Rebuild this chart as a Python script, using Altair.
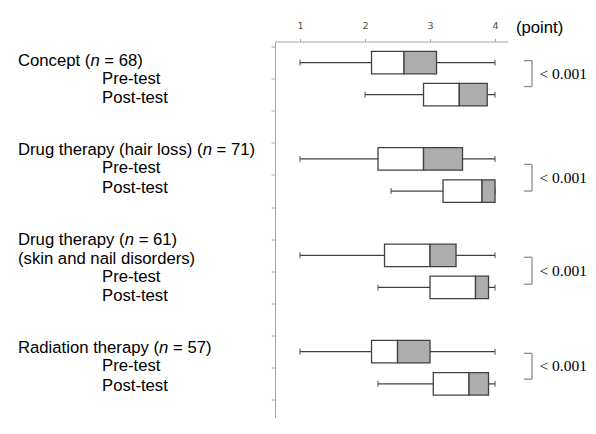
import altair as alt
import pandas as pd

# ---------------- data ----------------
group_titles = ["Concept", "Drug therapy (hair loss)", "Drug therapy", "Radiation therapy"]
group_subtitles = ["", "", "(skin and nail disorders)", ""]
n_values = [68, 71, 61, 57]
tests = ["Pre-test", "Post-test"]
# per group: [pre, post]
mins = [[1.0, 2.0], [1.0, 2.4], [1.0, 2.2], [1.0, 2.2]]
q1s = [[2.1, 2.9], [2.2, 3.2], [2.3, 3.0], [2.1, 3.05]]
medians = [[2.6, 3.45], [2.9, 3.8], [3.0, 3.7], [2.5, 3.6]]
q3s = [[3.1, 3.88], [3.5, 4.0], [3.4, 3.9], [3.0, 3.9]]
maxs = [[4.0, 4.0], [4.0, 4.0], [4.0, 4.0], [4.0, 4.0]]
p_values = ["< 0.001", "< 0.001", "< 0.001", "< 0.001"]
x_ticks = [1, 2, 3, 4]
unit_label = "(point)"

# ---------------- layout ----------------
PX_X = 65.0          # pixels per point on x
PX_Y = 33.0          # pixels per slot on y
PLOT_W = 233.0
X_MIN = 0.615
X_MAX = X_MIN + PLOT_W / PX_X
PLOT_H = 376.5
Y_MAX = PLOT_H / PX_Y
PAD_L = 267
PAD_R = 580 - PAD_L - PLOT_W
FONT = "Liberation Sans"
FS = 16.7
INK = "#404040"
GREY_FILL = "#adadad"
AXIS_C = "#a6a6a6"

ARIAL = {" ": 278, "(": 333, ")": 333, "=": 584, "-": 333, "C": 722, "D": 722, "R": 722,
         "P": 667, "a": 556, "c": 500, "d": 556, "e": 556, "g": 556, "h": 556, "i": 222,
         "k": 500, "l": 222, "n": 556, "o": 556, "p": 556, "r": 333, "s": 500, "t": 278,
         "u": 556, "y": 500}
for d in "0123456789":
    ARIAL[d] = 556


def text_w(s):
    return sum(ARIAL.get(ch, 556) for ch in s) / 1000.0 * FS


def px_to_x(px):   # pixel offset from plot left -> data x
    return X_MIN + px / PX_X


# box table
rows = []
for g in range(len(group_titles)):
    for t in range(2):
        rows.append(dict(group=group_titles[g], test=tests[t], slot=3 * g + t + 0.5,
                         mn=mins[g][t], q1=q1s[g][t], med=medians[g][t],
                         q3=q3s[g][t], mx=maxs[g][t]))
box_df = pd.DataFrame(rows)

# label layout (baselines in slot units, x in pixels from plot left)
title_base = [0.606, 3.370, 6.167, 9.552]
sub_base = [None, None, 6.773, None]
pre_base = [1.167, 3.945, 7.327, 10.106]
post_base = [1.773, 4.552, 7.933, 10.712]
TITLE_X = -257.0
TEST_X = -173.0

lab = []
for g in range(len(group_titles)):
    pre = group_titles[g] + " ("
    x0 = TITLE_X
    lab.append(dict(text=pre, x=px_to_x(x0), y=title_base[g], it=0))
    x1 = x0 + text_w(pre)
    lab.append(dict(text="n", x=px_to_x(x1), y=title_base[g], it=1))
    x2 = x1 + text_w("n") + text_w(" ")
    lab.append(dict(text="= %d)" % n_values[g], x=px_to_x(x2), y=title_base[g], it=0))
    if group_subtitles[g]:
        lab.append(dict(text=group_subtitles[g], x=px_to_x(TITLE_X), y=sub_base[g], it=0))
    lab.append(dict(text=tests[0], x=px_to_x(TEST_X), y=pre_base[g], it=0))
    lab.append(dict(text=tests[1], x=px_to_x(TEST_X), y=post_base[g], it=0))
lab_df = pd.DataFrame(lab)

# brackets & p-values
br_top = [0.439, 3.670, 6.561, 9.551]
br_bot = [1.247, 4.500, 7.400, 10.355]
BR_X = px_to_x(257.0)
ARM_X = px_to_x(249.0)
P_X = px_to_x(264.5)
br_df = pd.DataFrame(dict(top=br_top, bot=br_bot, xv=[BR_X] * 4, xa=[ARM_X] * 4,
                          px=[P_X] * 4, p=p_values,
                          mid=[(a + b) / 2 for a, b in zip(br_top, br_bot)]))
unit_df = pd.DataFrame(dict(text=[unit_label], x=[px_to_x(241.0)], y=[-13.5 / PX_Y]))

xs = alt.Scale(domain=[X_MIN, X_MAX], nice=False, zero=False)
ys = alt.Scale(domain=[0, Y_MAX], nice=False, zero=False, reverse=True)

X = lambda f: alt.X(f, type="quantitative", scale=xs,
                    axis=alt.Axis(orient="top", values=x_ticks, format="d", title=None,
                                  grid=False, tickSize=3, labelPadding=8.5,
                                  labelFont="DejaVu Sans", labelFontSize=9.5,
                                  labelColor="#4f4f40", tickColor=AXIS_C,
                                  domainColor=AXIS_C))
Y = lambda f: alt.Y(f, type="quantitative", scale=ys,
                    axis=alt.Axis(values=list(range(12)), labels=False, title=None,
                                  grid=False, tickSize=4, tickColor=AXIS_C,
                                  domainColor=AXIS_C))

base = alt.Chart(box_df)
whisk = base.mark_rule(color=INK, strokeWidth=1.3).encode(x=X("mn"), x2="mx", y=Y("slot"))
cap_lo = base.mark_tick(orient="vertical", size=6, thickness=1.3, color=INK).encode(x=X("mn"), y=Y("slot"))
cap_hi = base.mark_tick(orient="vertical", size=6, thickness=1.3, color=INK).encode(x=X("mx"), y=Y("slot"))
box_lo = base.mark_bar(size=22.5, fill="white", stroke=INK, strokeWidth=1.3).encode(
    x=X("q1"), x2="med", y=Y("slot"))
box_hi = base.mark_bar(size=22.5, fill=GREY_FILL, stroke=INK, strokeWidth=1.3).encode(
    x=X("med"), x2="q3", y=Y("slot"))

lbase = alt.Chart(lab_df)
lab_reg = lbase.transform_filter("datum.it == 0").mark_text(
    align="left", baseline="alphabetic", font=FONT, fontSize=FS, color="black").encode(
    x=X("x"), y=Y("y"), text="text:N")
lab_it = lbase.transform_filter("datum.it == 1").mark_text(
    align="left", baseline="alphabetic", font=FONT, fontSize=FS, fontStyle="italic",
    color="black").encode(x=X("x"), y=Y("y"), text="text:N")

bbase = alt.Chart(br_df)
br_v = bbase.mark_rule(color="#8c8c8c", strokeWidth=1.3).encode(x=X("xv"), y=Y("top"), y2="bot")
br_t = bbase.mark_rule(color="#8c8c8c", strokeWidth=1.3).encode(x=X("xa"), x2="xv", y=Y("top"))
br_b = bbase.mark_rule(color="#8c8c8c", strokeWidth=1.3).encode(x=X("xa"), x2="xv", y=Y("bot"))
p_txt = bbase.mark_text(align="left", baseline="middle", font="Liberation Serif",
                        fontSize=15.5, color="black").encode(x=X("px"), y=Y("mid"), text="p:N")

unit_txt = alt.Chart(unit_df).mark_text(align="left", baseline="alphabetic", font=FONT,
                                        fontSize=FS, color="black").encode(
    x=X("x"), y=Y("y"), text="text:N")

chart = alt.layer(whisk, cap_lo, cap_hi, box_lo, box_hi, lab_reg, lab_it,
                  br_v, br_t, br_b, p_txt, unit_txt).properties(
    width=PLOT_W, height=PLOT_H,
    autosize=alt.AutoSizeParams(type="none"),
    padding={"left": PAD_L, "top": 33.5, "right": PAD_R, "bottom": 0},
).configure(background="white").configure_view(strokeWidth=0)

chart.save("out.html", embed_options={"renderer": "svg", "actions": False})
